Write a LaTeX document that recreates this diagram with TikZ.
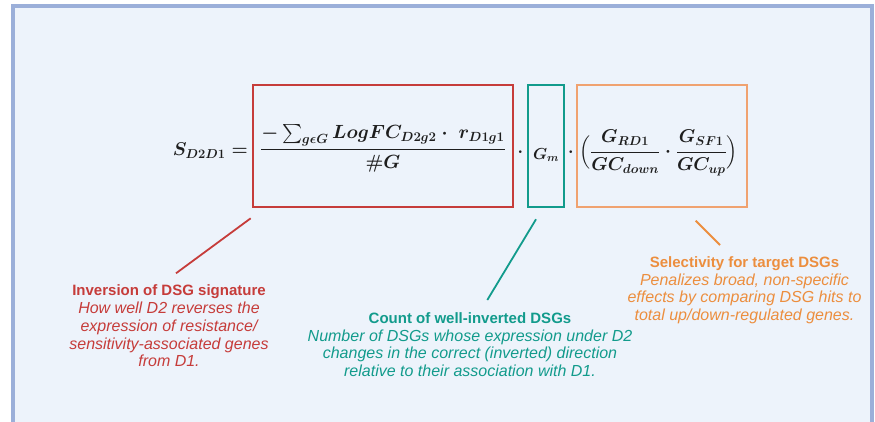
\documentclass[tikz,border=0pt]{standalone}
\usepackage[no-math]{fontspec}
\setmainfont{Liberation Sans}
\usepackage{amsmath}
\usepackage{graphicx}
\definecolor{bgc}{RGB}{237,243,251}
\definecolor{framec}{RGB}{155,175,217}
\definecolor{redc}{RGB}{198,60,58}
\definecolor{tealc}{RGB}{18,155,140}
\definecolor{orangec}{RGB}{236,142,62}
\definecolor{orangebox}{RGB}{240,162,112}
\definecolor{mathc}{RGB}{30,30,30}
\tikzset{
  panel/.style={draw=framec, fill=bgc, line width=4pt},
  termbox/.style={line width=2pt},
  lead/.style={line width=1.8pt},
  expl/.style={align=center, inner sep=0pt, anchor=north,
    font=\fontsize{16}{17.8}\selectfont\itshape},
  mathnode/.style={inner sep=0pt, text=mathc, font=\fontsize{17}{20}\selectfont\boldmath},
}
\newcommand{\ttl}[1]{{\fontsize{15}{17.8}\selectfont\bfseries\upshape #1}}
\begin{document}
\begin{tikzpicture}[x=1pt,y=-1pt]
\useasboundingbox (0,0) rectangle (875,422);
\clip (0,0) rectangle (875,422);
\fill[white] (0,0) rectangle (875,422);
\draw[panel] (13,6) rectangle (872,440);

% term boxes
\draw[termbox, draw=redc] (253,85) rectangle (513,207);
\draw[termbox, draw=tealc] (528,85) rectangle (564,207);
\draw[termbox, draw=orangebox] (577,85) rectangle (747,207);

% formula
\node[mathnode, anchor=east] (lhs) at (248,151) {\resizebox{75pt}{!}{$S_{D2D1} =$}};
\node[mathnode] (frac) at (383,148) {\resizebox{246pt}{!}{$\displaystyle\frac{-\sum_{g\epsilon G} LogFC_{D2g2}\cdot\; r_{D1g1}}{\#G}$}};
\node[mathnode] (dot1) at (520.5,152) {$\cdot$};
\node[mathnode] (gm) at (546,155) {\resizebox{26pt}{!}{$G_m$}};
\node[mathnode] (dot2) at (571,152) {$\cdot$};
\node[mathnode] (sel) at (658.5,153) {\resizebox{159pt}{!}{$\Bigl(\dfrac{G_{RD1}}{GC_{down}}\cdot\dfrac{G_{SF1}}{GC_{up}}\Bigr)$}};

% leader ends
\coordinate (rA) at (250.7,218.3);
\coordinate (rB) at (176,273.3);
\coordinate (tA) at (536,219.3);
\coordinate (tB) at (487.3,300);
\coordinate (oA) at (695.7,220.7);
\coordinate (oB) at (720,245);
\draw[lead, draw=redc] (rA) -- (rB);
\draw[lead, draw=tealc] (tA) -- (tB);
\draw[lead, draw=orangec] (oA) -- (oB);

% explanations
\node[expl, text=redc] (inv) at (169,284.7) {\ttl{Inversion of DSG signature}\\How well D2 reverses the\\expression of resistance/\\sensitivity-associated genes\\from D1.};
\node[expl, text=tealc] (cnt) at (470,312.3) {\ttl{Count of well-inverted DSGs}\\Number of DSGs whose expression under D2\\changes in the correct (inverted) direction\\relative to their association with D1.};
\node[expl, text=orangec] (selx) at (744.5,256.3) {\ttl{Selectivity for target DSGs}\\Penalizes broad, non-specific\\effects by comparing DSG hits to\\total up/down-regulated genes.};
\end{tikzpicture}
\end{document}
